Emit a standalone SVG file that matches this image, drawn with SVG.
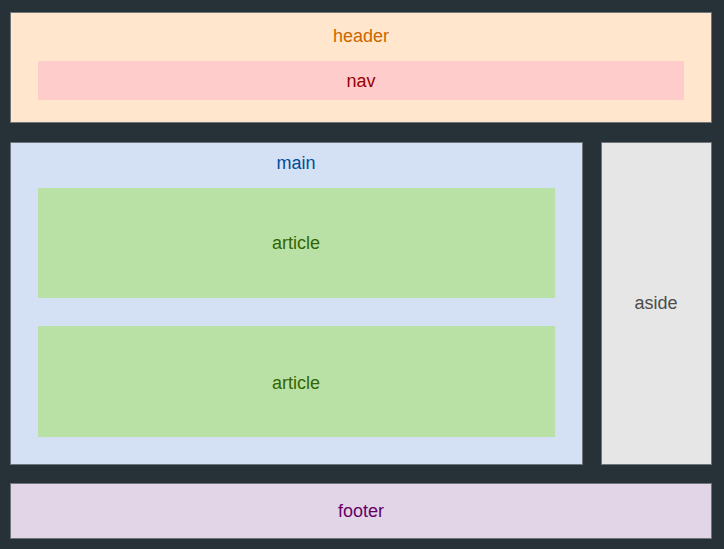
<svg xmlns="http://www.w3.org/2000/svg" width="724" height="549" viewBox="0 0 724 549">
<style>
text{font-family:"Liberation Sans",Arial,sans-serif;font-size:18px;text-anchor:middle}
.box{stroke:#6f7479;stroke-width:1}
</style>
<rect x="0" y="0" width="724" height="549" fill="#263238"/>
<g id="header">
<rect class="box" x="10.5" y="12.5" width="701" height="110" fill="#ffe6cc"/>
<text x="361" y="41.5" fill="#cc6600">header</text>
</g>
<g id="nav">
<rect x="38" y="61" width="646" height="39" fill="#ffcccc"/>
<text x="361" y="87" fill="#990000">nav</text>
</g>
<g id="main">
<rect class="box" x="10.5" y="142.5" width="572" height="322" fill="#d4e1f5"/>
<text x="296" y="169" fill="#004c99">main</text>
</g>
<g id="article1">
<rect x="38" y="188" width="517" height="110" fill="#b9e0a5"/>
<text x="296" y="249" fill="#336600">article</text>
</g>
<g id="article2">
<rect x="38" y="326" width="517" height="111" fill="#b9e0a5"/>
<text x="296" y="388.5" fill="#336600">article</text>
</g>
<g id="aside">
<rect class="box" x="601.5" y="142.5" width="110" height="322" fill="#e6e6e6"/>
<text x="656" y="309" fill="#4d4d4d">aside</text>
</g>
<g id="footer">
<rect class="box" x="10.5" y="483.5" width="701" height="55" fill="#e1d5e7"/>
<text x="361" y="517" fill="#660066">footer</text>
</g>
<g id="connectors"/>
</svg>
